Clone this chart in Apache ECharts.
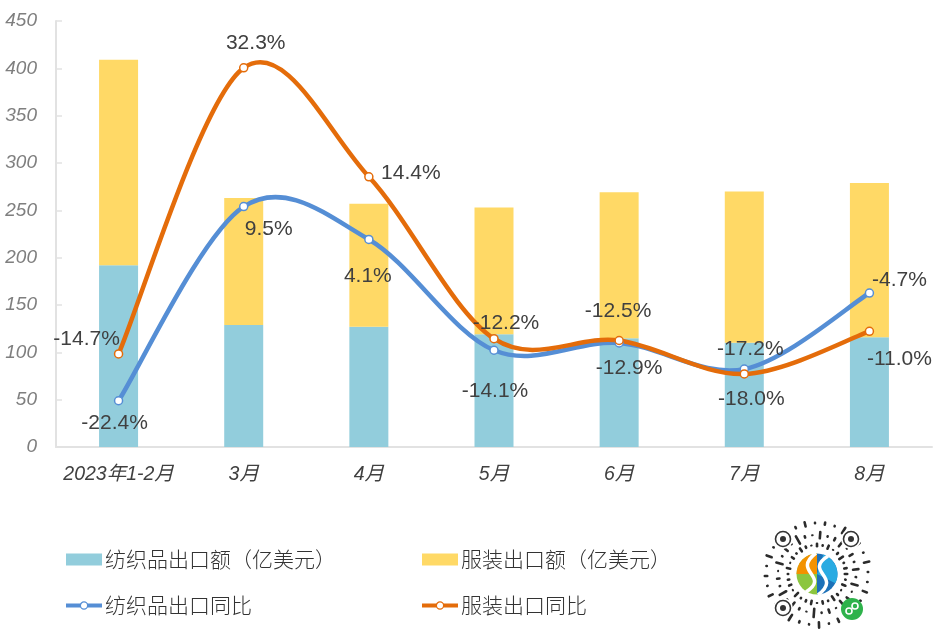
<!DOCTYPE html>
<html lang="zh-CN">
  <head>
    <meta charset="UTF-8" />
    <title>纺织品服装出口</title>
    <style>
      html, body { margin: 0; padding: 0; background: #fff; }
      #chart { width: 939px; height: 636px; }
    </style>
  </head>
  <body>
    <div id="chart"></div>
    <script src="https://cdn.jsdelivr.net/npm/echarts@6/dist/echarts.min.js"></script>
    <script>
      // data
      var months = ['2023年1-2月', '3月', '4月', '5月', '6月', '7月', '8月'];
      var textileAmount = [192, 129, 127, 119, 115, 110, 116];
      var apparelAmount = [217, 134, 130, 134, 154, 160, 163];
      var textileYoy = [-22.4, 9.5, 4.1, -14.1, -12.9, -17.2, -4.7];
      var apparelYoy = [-14.7, 32.3, 14.4, -12.2, -12.5, -18.0, -11.0];

      // label offsets from the point, in pixels
      var textileLabelOffset = [[-4, 22], [25, 23], [-1, 37], [1, 41], [10, 25], [6, -20], [30, -13]];
      var apparelLabelOffset = [[-32, -15], [12, -25], [42, -4], [12, -15], [-1, -29], [7, 25], [30, 28]];

      var TEAL = '#92cddc', YELLOW = '#ffd966', BLUE = '#558ed5', ORANGE = '#e46c0a';

      var myChart = echarts.init(document.getElementById('chart'));

      function pointSeries(name, values, offsets, color) {
        return {
          name: name,
          type: 'line',
          yAxisIndex: 1,
          z: 5,
          symbol: 'circle',
          symbolSize: 8,
          showAllSymbol: true,
          itemStyle: { color: '#fff', borderColor: color, borderWidth: 1.5 },
          lineStyle: { width: 0, color: color },
          data: values.map(function (v, i) {
            return {
              value: v,
              label: { offset: offsets[i] }
            };
          }),
          label: {
            show: true,
            position: 'inside',
            color: '#404040',
            fontSize: 21,
            fontFamily: 'Liberation Sans',
            formatter: function (p) { return p.value.toFixed(1) + '%'; }
          }
        };
      }

      // excel style smoothed line, one bezier per pair of points
      function curveSeries(values, color, z) {
        return {
          type: 'custom',
          yAxisIndex: 1,
          silent: true,
          z: z,
          encode: { x: 0, y: 1 },
          data: values.map(function (v, i) { return [i, v]; }),
          renderItem: function (params, api) {
            var i = params.dataIndex;
            if (i >= values.length - 1) return;
            var at = function (k) {
              k = Math.max(0, Math.min(values.length - 1, k));
              return api.coord([k, values[k]]);
            };
            var p0 = at(i - 1), p1 = at(i), p2 = at(i + 1), p3 = at(i + 2);
            return {
              type: 'bezierCurve',
              shape: {
                x1: p1[0], y1: p1[1],
                x2: p2[0], y2: p2[1],
                cpx1: p1[0] + (p2[0] - p0[0]) / 6,
                cpy1: p1[1] + (p2[1] - p0[1]) / 6,
                cpx2: p2[0] - (p3[0] - p1[0]) / 6,
                cpy2: p2[1] - (p3[1] - p1[1]) / 6
              },
              style: { fill: null, stroke: color, lineWidth: 4.5, lineCap: 'round' }
            };
          }
        };
      }

      function barLegend(name, left) {
        return {
          left: left,
          top: 544,
          itemWidth: 36,
          itemHeight: 12,
          selectedMode: false,
          icon: 'rect',
          textStyle: legendText,
          data: [name]
        };
      }

      function lineLegend(name, color, left) {
        return {
          left: left,
          top: 590,
          itemWidth: 36,
          itemHeight: 9,
          selectedMode: false,
          textStyle: legendText,
          data: [{
            name: name,
            lineStyle: { color: color, width: 4, opacity: 1 },
            itemStyle: { color: '#fff', borderColor: color, borderWidth: 1.2 }
          }]
        };
      }

      var legendText = {
        fontFamily: 'Noto Sans CJK SC',
        fontSize: 21,
        fontWeight: 300,
        color: '#333',
        padding: [0, 0, 0, -2]
      };

      // mini program code in the corner, just decoration
      var qrCx = 817, qrCy = 574;
      var rayRings = [
        { r: 29, lens: [5, 3, 6, 2, 4, 7, 3, 5, 2, 6, 4, 3, 7, 2, 5, 4, 3, 6, 2, 5, 3, 6, 4, 2, 5, 3, 6, 2, 4, 7, 3, 5] },
        { r: 39, lens: [3, 9, 2, 5, 10, 2, 6, 3, 11, 2, 4, 8, 2, 10, 3, 5, 2, 9, 3, 6, 2, 11, 4, 2, 9, 3, 5, 10, 2, 6, 3, 8] },
        { r: 51, lens: [3, 7, 3, 10, 3, 6, 3, 8, 3, 4, 9, 3, 3, 7, 3, 5, 3, 8, 3, 10, 3, 4, 7, 3, 5, 3, 9, 3, 6, 3, 8, 3] }
      ];
      var qrGraphics = [];
      rayRings.forEach(function (ring, n) {
        ring.lens.forEach(function (len, k) {
          var a = (k + n * 0.4) / ring.lens.length * Math.PI * 2;
          qrGraphics.push({
            type: 'rect',
            x: qrCx + Math.cos(a) * ring.r,
            y: qrCy + Math.sin(a) * ring.r,
            rotation: -a,
            shape: { x: -len / 2, y: -1.3, width: len, height: 2.6, r: 1.3 },
            style: { fill: '#2b2b2b' }
          });
        });
      });
      [[783, 539], [851, 539], [783, 608]].forEach(function (c) {
        qrGraphics.push({ type: 'circle', shape: { cx: c[0], cy: c[1], r: 10 }, style: { fill: '#fff' } });
        qrGraphics.push({ type: 'circle', shape: { cx: c[0], cy: c[1], r: 7.5 }, style: { fill: '#fff', stroke: '#333', lineWidth: 1.6 } });
        qrGraphics.push({ type: 'circle', shape: { cx: c[0], cy: c[1], r: 3 }, style: { fill: '#333' } });
      });
      qrGraphics.push(
        { type: 'circle', shape: { cx: qrCx, cy: qrCy, r: 24 }, style: { fill: '#fff' } },
        { type: 'sector', shape: { cx: qrCx, cy: qrCy, r: 20.5, r0: 0, startAngle: Math.PI * 0.5, endAngle: Math.PI * 1.5 }, style: { fill: '#8cc63f' } },
        { type: 'sector', shape: { cx: qrCx, cy: qrCy, r: 20.5, r0: 0, startAngle: Math.PI * 1.0, endAngle: Math.PI * 1.5 }, style: { fill: '#f39200' } },
        { type: 'sector', shape: { cx: qrCx, cy: qrCy, r: 20.5, r0: 0, startAngle: -Math.PI * 0.5, endAngle: Math.PI * 0.5 }, style: { fill: '#1d71b8' } },
        { type: 'sector', shape: { cx: qrCx, cy: qrCy, r: 20.5, r0: 0, startAngle: -Math.PI * 0.4, endAngle: Math.PI * 0.15 }, style: { fill: '#29abe2' } },
        { type: 'bezierCurve', shape: { x1: qrCx - 1, y1: qrCy - 21, x2: qrCx - 11, y2: qrCy + 18, cpx1: qrCx - 26, cpy1: qrCy - 2, cpx2: qrCx + 14, cpy2: qrCy + 2 }, style: { fill: null, stroke: '#fff', lineWidth: 3.5 } },
        { type: 'bezierCurve', shape: { x1: qrCx + 11, y1: qrCy - 18, x2: qrCx + 1, y2: qrCy + 21, cpx1: qrCx - 14, cpy1: qrCy - 2, cpx2: qrCx + 26, cpy2: qrCy + 2 }, style: { fill: null, stroke: '#fff', lineWidth: 3.5 } },
        { type: 'circle', shape: { cx: 852, cy: 609, r: 11 }, style: { fill: '#2eb24b' } },
        { type: 'circle', shape: { cx: 849, cy: 611, r: 3 }, style: { fill: null, stroke: '#fff', lineWidth: 1.6 } },
        { type: 'circle', shape: { cx: 855, cy: 606, r: 3 }, style: { fill: null, stroke: '#fff', lineWidth: 1.6 } }
      );

      var option = {
        animation: false,
        backgroundColor: '#fff',
        grid: { left: 56, right: 7, top: 21, bottom: 189, containLabel: false },
        legend: [
          barLegend('纺织品出口额（亿美元）', 61),
          barLegend('服装出口额（亿美元）', 417),
          lineLegend('纺织品出口同比', BLUE, 59),
          lineLegend('服装出口同比', ORANGE, 415)
        ],
        xAxis: {
          type: 'category',
          data: months,
          axisLine: { lineStyle: { color: '#e2e2e2', width: 2 } },
          axisTick: { show: false },
          axisLabel: {
            interval: 0,
            margin: 18,
            color: '#404040',
            fontSize: 19.5,
            fontStyle: 'italic',
            fontFamily: 'Liberation Sans, Noto Sans CJK SC'
          }
        },
        yAxis: [
          {
            type: 'value',
            min: 0,
            max: 450,
            interval: 50,
            splitLine: { show: false },
            axisLine: { show: true, lineStyle: { color: '#e2e2e2', width: 2 } },
            axisTick: { show: true, inside: true, length: 6, lineStyle: { color: '#e2e2e2', width: 1.5 } },
            axisLabel: {
              margin: 19,
              color: '#7f7f7f',
              fontSize: 19,
              fontStyle: 'italic',
              fontFamily: 'Liberation Sans'
            }
          },
          { type: 'value', min: -30, max: 40, show: false, splitLine: { show: false } }
        ],
        series: [
          { name: '纺织品出口额（亿美元）', type: 'bar', stack: 'amount', barWidth: 39, itemStyle: { color: TEAL }, data: textileAmount },
          { name: '服装出口额（亿美元）', type: 'bar', stack: 'amount', barWidth: 39, itemStyle: { color: YELLOW }, data: apparelAmount },
          curveSeries(textileYoy, BLUE, 3),
          curveSeries(apparelYoy, ORANGE, 4),
          pointSeries('纺织品出口同比', textileYoy, textileLabelOffset, BLUE),
          pointSeries('服装出口同比', apparelYoy, apparelLabelOffset, ORANGE)
        ],
        graphic: qrGraphics
      };

      myChart.setOption(option);
    </script>
  </body>
</html>
